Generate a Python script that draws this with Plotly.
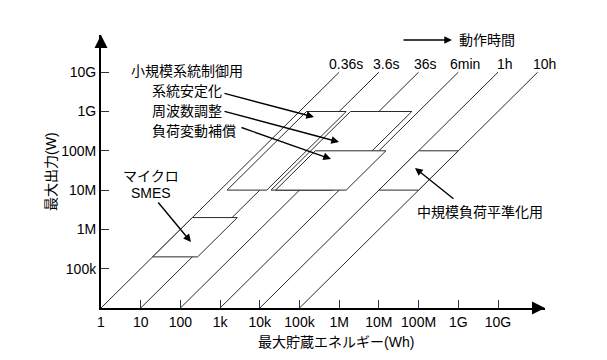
import math
import plotly.graph_objects as go

# ---------------- data ----------------
time_hours = [1e-4, 1e-3, 1e-2, 0.1, 1, 10]
time_labels = ["0.36s", "3.6s", "36s", "6min", "1h", "10h"]
line_power = [1e4, 1e10]

x_tickvals = [1, 10, 100, 1e3, 1e4, 1e5, 1e6, 1e7, 1e8, 1e9, 1e10]
x_ticktext = ["1", "10", "100", "1k", "10k", "100k", "1M", "10M", "100M", "1G", "10G"]
y_tickvals = [1e5, 1e6, 1e7, 1e8, 1e9, 1e10]
y_ticktext = ["100k", "1M", "10M", "100M", "1G", "10G"]

# regions: (power low, power high, energy at low power left/right, energy at high power left/right)
box_names = ["SMES", "系統安定化", "周波数調整", "負荷変動補償", "中規模負荷平準化"]
box_p_low = [2e5, 1e7, 1e7, 1e7, 1e7]
box_p_high = [2e6, 1e9, 1e9, 1e8, 1e8]
box_e_low_left = [20, 1.5e3, 1.92e4, 2.5e4, 1e7]
box_e_low_right = [272, 1.5e4, 6.75e5, 1.5e6, 1e8]
box_e_high_left = [200, 1.5e5, 1.92e6, 2.5e5, 1e8]
box_e_high_right = [2720, 1.5e6, 6.75e7, 1.5e7, 1e9]

# ---------------- layout geometry ----------------
W, H = 607, 360
ML, MR, MT, MB = 101, 62, 35, 52
PW, PH = W - ML - MR, H - MT - MB
XDEC, YDEC = 39.7, 39.3
FONT = "Liberation Sans, Arial, Noto Sans CJK JP, sans-serif"
LINE_C = "#2a2a2a"


def px(xp):
    return (xp - ML) / PW


def py(yp):
    return (H - MB - yp) / PH


fig = go.Figure()

# constant-time lines
for t in time_hours:
    fig.add_trace(go.Scatter(
        x=[p * t for p in line_power], y=line_power, mode="lines",
        line=dict(color=LINE_C, width=1), hoverinfo="skip", showlegend=False))

# regions (white-filled, hiding lines beneath)
for i in range(len(box_names)):
    xs = [box_e_low_left[i], box_e_low_right[i], box_e_high_right[i], box_e_high_left[i], box_e_low_left[i]]
    ys = [box_p_low[i], box_p_low[i], box_p_high[i], box_p_high[i], box_p_low[i]]
    fig.add_trace(go.Scatter(
        x=xs, y=ys, mode="lines", fill="toself", fillcolor="white",
        line=dict(color=LINE_C, width=1), hoverinfo="skip", showlegend=False))

ann = []
# time labels at top of lines
for t, lab in zip(time_hours, time_labels):
    ann.append(dict(x=math.log10(line_power[1] * t), y=math.log10(line_power[1]),
                    xref="x", yref="y", text=lab, showarrow=False,
                    xshift=7, yshift=8, font=dict(size=14, color="black", family=FONT)))


def text(x, y, s, anchor="center", angle=0):
    ann.append(dict(x=px(x), y=py(y), xref="paper", yref="paper", text=s,
                    showarrow=False, xanchor=anchor, yanchor="middle", textangle=angle,
                    font=dict(size=14, color="black", family=FONT)))


def arrow(tx, ty, hx, hy, width=1.4, size=1.1):
    ann.append(dict(x=px(hx), y=py(hy), xref="paper", yref="paper",
                    ax=tx - hx, ay=ty - hy, axref="pixel", ayref="pixel",
                    text="", showarrow=True, arrowhead=2, arrowsize=size,
                    arrowwidth=width, arrowcolor="black", standoff=0))


text(487, 40, "動作時間")
arrow(402, 40, 452, 40)
text(187, 71, "小規模系統制御用")
text(150, 91, "系統安定化", "left")
text(150, 111, "周波数調整", "left")
text(150, 131, "負荷変動補償", "left")
arrow(223, 93, 314, 117)
arrow(223, 111, 339, 142)
arrow(240, 127, 331, 159)
text(151, 176, "マイクロ")
text(151, 193, "SMES")
arrow(157, 201, 191, 242)
text(415, 212, "中規模負荷平準化用", "left")
arrow(455, 200, 415, 168)
text(336, 342, "最大貯蔵エネルギー(Wh)")
text(51, 172, "最大出力(W)", angle=-90)

# axis arrowheads
arrow(ML + PW - 12, H - MB, ML + PW, H - MB, width=2, size=1.3)
arrow(ML, MT + 12, ML, MT, width=2, size=1.3)

axis_common = dict(type="log", showline=True, linecolor="black", linewidth=2,
                   ticks="inside", ticklen=8, tickwidth=1, tickcolor="#333",
                   showgrid=False, zeroline=False,
                   tickfont=dict(size=14, color="black", family=FONT))

fig.update_layout(
    width=W, height=H, margin=dict(l=ML, r=MR, t=MT, b=MB, pad=0),
    paper_bgcolor="white", plot_bgcolor="white", showlegend=False,
    xaxis=dict(range=[0, PW / XDEC], tickvals=x_tickvals, ticktext=x_ticktext, **axis_common),
    yaxis=dict(range=[4, 4 + PH / YDEC], tickvals=y_tickvals, ticktext=y_ticktext, **axis_common),
    annotations=ann,
)

fig.write_html("out.html", config={"displayModeBar": False},
               post_script="document.body.style.margin='0';")
